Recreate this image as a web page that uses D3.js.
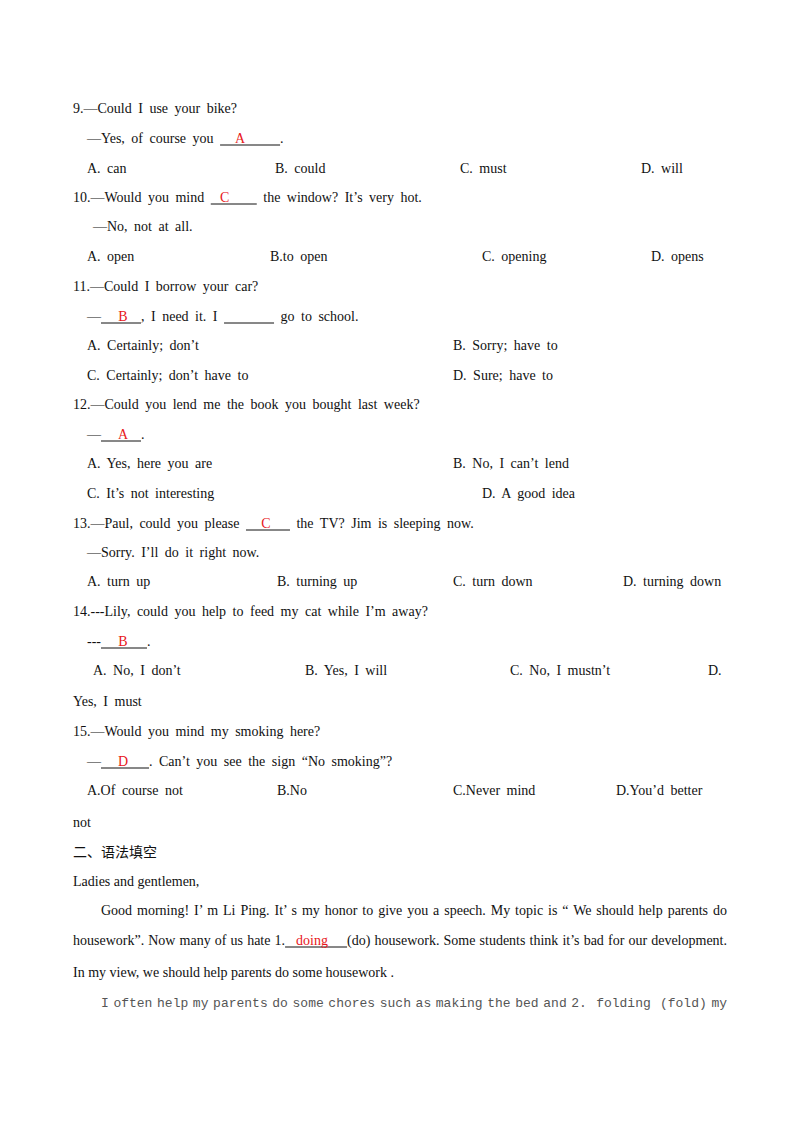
<!DOCTYPE html>
<html><head><meta charset="utf-8">
<script src="https://cdn.jsdelivr.net/npm/d3@7"></script>
<style>body{margin:0;background:#fff}</style>
</head><body>
<script>
// page lines: y = baseline, x = left start, segs = text pieces or blanks
var questionLines = [
  {y:113, x:73, segs:["9.—Could I use your bike?"]},
  {y:143, x:87, segs:["—Yes, of course you ", {w:60, ans:"A", off:20}, "."]},
  {y:202, x:73, segs:["10.—Would you mind ", {w:46, ans:"C", off:14}, " the window? It\u2019s very hot."]},
  {y:231, x:93, segs:["—No, not at all."]},
  {y:291, x:73, segs:["11.—Could I borrow your car?"]},
  {y:321, x:87, segs:["—", {w:40, ans:"B", off:22}, ", I need it. I ", {w:50}, " go to school."]},
  {y:409, x:73, segs:["12.—Could you lend me the book you bought last week?"]},
  {y:439, x:87, segs:["—", {w:40, ans:"A", off:22}, "."]},
  {y:528, x:73, segs:["13.—Paul, could you please ", {w:44, ans:"C", off:20}, " the TV? Jim is sleeping now."]},
  {y:557, x:87, segs:["—Sorry. I\u2019ll do it right now."]},
  {y:616, x:73, segs:["14.---Lily, could you help to feed my cat while I\u2019m away?"]},
  {y:646, x:87, segs:["---", {w:46, ans:"B", off:22}, "."]},
  {y:706, x:73, segs:["Yes, I must"]},
  {y:736, x:73, segs:["15.—Would you mind my smoking here?"]},
  {y:766, x:87, segs:["—", {w:48, ans:"D", off:22}, ". Can\u2019t you see the sign \u201cNo smoking\u201d?"]},
  {y:827, x:73, segs:["not"]}
];
// answer option rows: y and [x, label]
var optionRows = [
  {y:173, opts:[[87,"A. can"],[275,"B. could"],[460,"C. must"],[641,"D. will"]]},
  {y:261, opts:[[87,"A. open"],[270,"B.to open"],[482,"C. opening"],[651,"D. opens"]]},
  {y:350, opts:[[87,"A. Certainly; don\u2019t"],[453,"B. Sorry; have to"]]},
  {y:380, opts:[[87,"C. Certainly; don\u2019t have to"],[453,"D. Sure; have to"]]},
  {y:468, opts:[[87,"A. Yes, here you are"],[453,"B. No, I can\u2019t lend"]]},
  {y:498, opts:[[87,"C. It\u2019s not interesting"],[482,"D. A good idea"]]},
  {y:586, opts:[[87,"A. turn up"],[277,"B. turning up"],[453,"C. turn down"],[623,"D. turning down"]]},
  {y:675, opts:[[93,"A. No, I don\u2019t"],[305,"B. Yes, I will"],[510,"C. No, I mustn\u2019t"],[708,"D."]]},
  {y:795, opts:[[87,"A.Of course not"],[277,"B.No"],[453,"C.Never mind"],[616,"D.You\u2019d better"]]}
];
var proseLines = [
  {y:857, x:73, segs:["二、语法填空"], cjk:true},
  {y:886, x:73, segs:["Ladies and gentlemen,"]},
  {y:915, x:101, end:727, segs:["Good morning! I\u2019 m Li Ping. It\u2019 s my honor to give you a speech. My topic is \u201c We should help parents do"]},
  {y:945, x:73, end:727, segs:["housework\u201d. Now many of us hate 1.", {w:62, ans:"doing", off:11}, "(do) housework. Some students think it\u2019s bad for our development."]},
  {y:977, x:73, segs:["In my view, we should help parents do some housework ."]},
  {y:1007, x:101, end:727, mono:true, segs:["I often help my parents do some chores such as making the bed and 2.  folding  (fold) my"]}
];

var svg = d3.select("body").append("svg").attr("width", 800).attr("height", 1132);
var serif = "'Liberation Serif','Times New Roman',serif";

function drawLine(line, ws) {
  var g = svg.append("g");
  var font = line.mono ? "'Liberation Mono','DejaVu Sans Mono',monospace" : line.cjk ? "'Noto Sans CJK SC',sans-serif" : serif;
  var size = line.mono ? 13 : 14;
  var colour = line.mono ? "#555" : "#111";
  function place(extra) {
    g.selectAll("*").remove();
    var x = line.x;
    line.segs.forEach(function (s) {
      if (typeof s === "string") {
        var t = g.append("text").attr("x", x).attr("y", line.y)
          .style("font-family", font).style("font-size", size + "px")
          .style("fill", colour).style("white-space", "pre")
          .style("word-spacing", (ws + extra) + "px").text(s);
        x += t.node().getComputedTextLength();
      } else {
        g.append("line").attr("x1", x).attr("x2", x + s.w)
          .attr("y1", line.y + 2).attr("y2", line.y + 2)
          .attr("stroke", "#111").attr("stroke-width", 1);
        if (s.ans) {
          g.append("text").attr("x", x + s.off).attr("y", line.y)
            .attr("text-anchor", s.ans.length > 1 ? "start" : "middle")
            .style("font-family", serif).style("font-size", "14px")
            .style("fill", "#e8161b").text(s.ans);
        }
        x += s.w;
      }
    });
    return x;
  }
  var endX = place(0);
  if (line.end) {
    var spaces = 0;
    line.segs.forEach(function (s) { if (typeof s === "string") spaces += (s.match(/ /g) || []).length; });
    place((line.end - endX) / spaces);
  }
}

questionLines.forEach(function (l) { drawLine(l, 3); });
optionRows.forEach(function (r) {
  r.opts.forEach(function (o) { drawLine({y: r.y, x: o[0], segs: [o[1]]}, 3); });
});
proseLines.forEach(function (l) { drawLine(l, 0); });
</script>
</body></html>
